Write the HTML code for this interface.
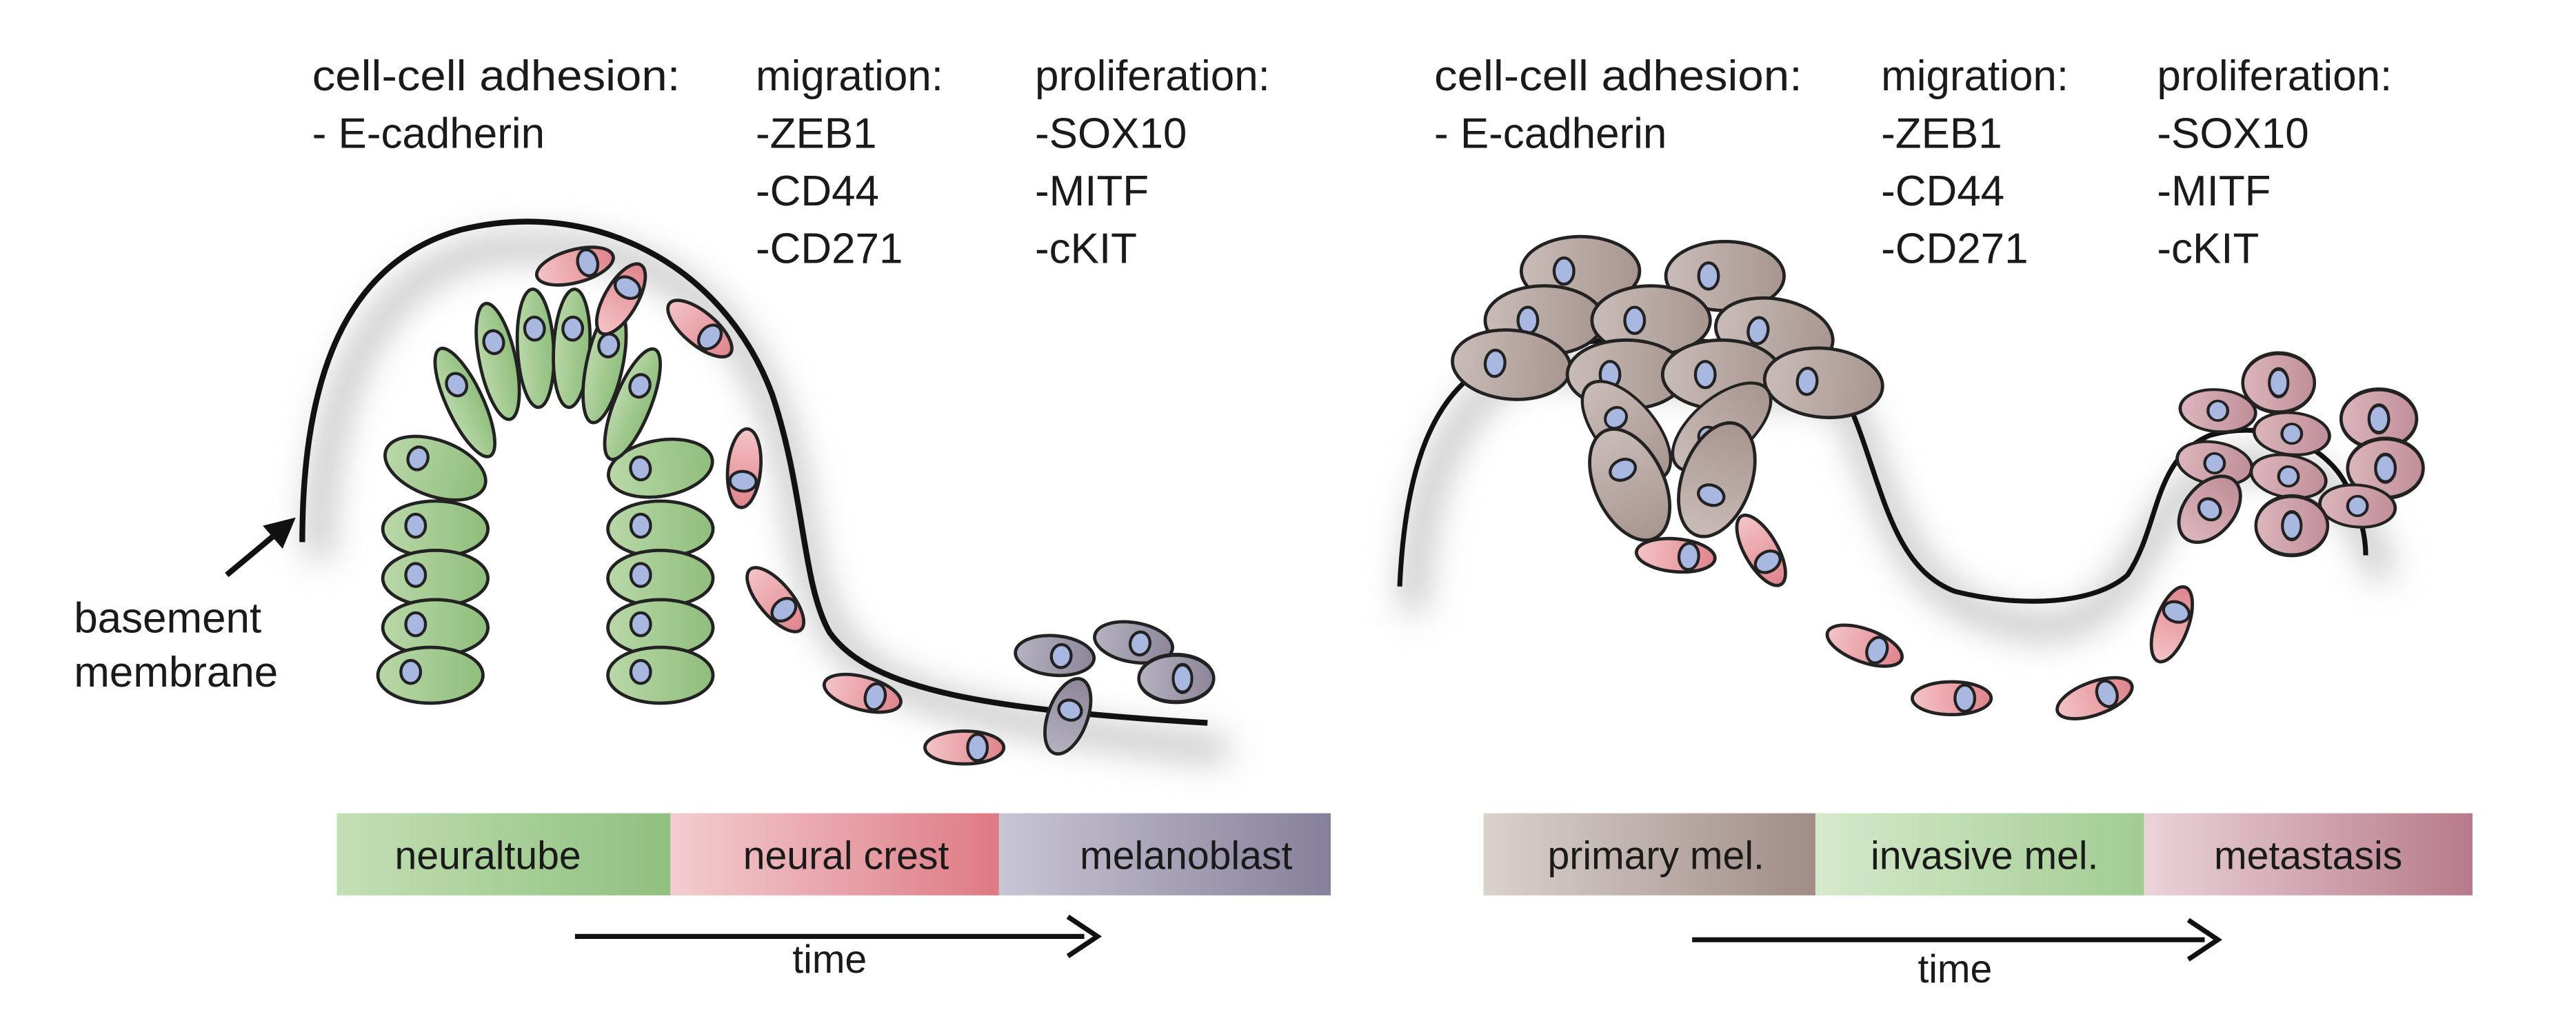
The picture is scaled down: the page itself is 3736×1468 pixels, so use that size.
<!DOCTYPE html>
<html><head><meta charset="utf-8"><style>
html,body{margin:0;padding:0;background:#fff;}
svg{display:block;}
text{font-family:"Liberation Sans",sans-serif;fill:#1a1a1a;}
</style></head><body>
<svg width="3736" height="1468" viewBox="0 0 1568 616" preserveAspectRatio="none" xmlns="http://www.w3.org/2000/svg">
<defs>
<filter id="blur" x="-20%" y="-20%" width="140%" height="140%"><feGaussianBlur stdDeviation="10"/></filter>
<linearGradient id="gC" x1="0" x2="1"><stop offset="0" stop-color="#b9d8a8"/><stop offset="1" stop-color="#8fbe7c"/></linearGradient>
<linearGradient id="pC" x1="0" x2="1"><stop offset="0" stop-color="#f4c4c6"/><stop offset="1" stop-color="#e0848c"/></linearGradient>
<linearGradient id="vC" x1="0" x2="1"><stop offset="0" stop-color="#b6b2c0"/><stop offset="1" stop-color="#8c8698"/></linearGradient>
<linearGradient id="bC" x1="0" x2="1"><stop offset="0" stop-color="#c9bcb8"/><stop offset="1" stop-color="#a8958f"/></linearGradient>
<linearGradient id="mC" x1="0" x2="1"><stop offset="0" stop-color="#dcb6bc"/><stop offset="1" stop-color="#c08e98"/></linearGradient>
<linearGradient id="b1" x1="0" x2="1"><stop offset="0" stop-color="#c3e0b4"/><stop offset="1" stop-color="#8fc07f"/></linearGradient>
<linearGradient id="b2" x1="0" x2="1"><stop offset="0" stop-color="#f2cdd0"/><stop offset="1" stop-color="#de7a84"/></linearGradient>
<linearGradient id="b3" x1="0" x2="1"><stop offset="0" stop-color="#c9c6d4"/><stop offset="1" stop-color="#86809a"/></linearGradient>
<linearGradient id="b4" x1="0" x2="1"><stop offset="0" stop-color="#dad2cd"/><stop offset="1" stop-color="#a08c88"/></linearGradient>
<linearGradient id="b5" x1="0" x2="1"><stop offset="0" stop-color="#d5eacb"/><stop offset="1" stop-color="#a2cc92"/></linearGradient>
<linearGradient id="b6" x1="0" x2="1"><stop offset="0" stop-color="#ead3d9"/><stop offset="1" stop-color="#b77a8a"/></linearGradient>
<g id="cg"><ellipse rx="32" ry="17" fill="url(#gC)" stroke="#222" stroke-width="2"/><ellipse cx="-12" cy="-2" rx="6" ry="7" fill="#a9b8e0" stroke="#222" stroke-width="1.8"/></g>
<g id="cgl"><ellipse rx="11" ry="36" fill="url(#gC)" stroke="#222" stroke-width="2"/><ellipse cx="0" cy="-12" rx="6" ry="7" fill="#a9b8e0" stroke="#222" stroke-width="1.8"/></g>
<g id="cp"><ellipse rx="24" ry="10" fill="url(#pC)" stroke="#222" stroke-width="2"/><ellipse cx="8" cy="0" rx="6" ry="8" fill="#a9b8e0" stroke="#222" stroke-width="1.8"/></g>
<g id="cv"><ellipse rx="24" ry="12" fill="url(#vC)" stroke="#222" stroke-width="2"/><ellipse cx="4" cy="0" rx="6" ry="7" fill="#a9b8e0" stroke="#222" stroke-width="1.8"/></g>
<g id="cb"><ellipse rx="36" ry="21" fill="url(#bC)" stroke="#222" stroke-width="2"/><ellipse cx="-10" cy="0" rx="6" ry="8" fill="#a9b8e0" stroke="#222" stroke-width="1.8"/></g>
<g id="cm"><ellipse rx="23" ry="15" fill="url(#mC)" stroke="#222" stroke-width="2"/><ellipse cx="0" cy="0" rx="6" ry="7" fill="#a9b8e0" stroke="#222" stroke-width="1.8"/></g>
</defs>

<!-- labels -->
<g font-size="26">
<text x="190" y="55" textLength="224" lengthAdjust="spacingAndGlyphs">cell-cell adhesion:</text><text x="190" y="90">- E-cadherin</text>
<text x="460" y="55">migration:</text><text x="460" y="90">-ZEB1</text><text x="460" y="125">-CD44</text><text x="460" y="160">-CD271</text>
<text x="630" y="55">proliferation:</text><text x="630" y="90">-SOX10</text><text x="630" y="125">-MITF</text><text x="630" y="160">-cKIT</text>
<text x="873" y="55" textLength="224" lengthAdjust="spacingAndGlyphs">cell-cell adhesion:</text><text x="873" y="90">- E-cadherin</text>
<text x="1145" y="55">migration:</text><text x="1145" y="90">-ZEB1</text><text x="1145" y="125">-CD44</text><text x="1145" y="160">-CD271</text>
<text x="1313" y="55">proliferation:</text><text x="1313" y="90">-SOX10</text><text x="1313" y="125">-MITF</text><text x="1313" y="160">-cKIT</text>
<text x="45" y="385">basement</text><text x="45" y="418">membrane</text>
</g>

<!-- shadows -->
<path d="M194,340 C194,250 222,168 297,152 C382,142 442,172 472,252 C494,312 482,362 522,402 C562,432 622,442 747,457" fill="none" stroke="#c4c4c4" stroke-width="16" filter="url(#blur)"/>
<path d="M860,372 C862,302 882,242 932,222 L1122,242 C1152,302 1152,372 1242,382 C1312,382 1302,282 1372,282 C1422,282 1442,322 1450,352" fill="none" stroke="#c4c4c4" stroke-width="16" filter="url(#blur)"/>

<!-- membranes -->
<path d="M184,330 C184,230 210,160 280,140 C360,120 440,160 470,240 C490,300 488,355 505,385 C530,420 600,432 735,440" fill="none" stroke="#111" stroke-width="3.5"/>
<path d="M852,357 C855,290 870,235 915,218 C960,205 1000,205 1040,208 C1080,212 1110,225 1125,245 C1145,290 1150,345 1190,360 C1230,370 1275,368 1295,350 C1315,320 1310,280 1345,265 C1380,255 1415,270 1428,295 C1436,310 1440,325 1440,338" fill="none" stroke="#111" stroke-width="3"/>

<!-- arrow basement -->
<line x1="138" y1="350" x2="168" y2="325" stroke="#111" stroke-width="3.5"/>
<polygon points="180,315 160,320 172,334" fill="#111"/>

<!-- green cells -->
<use href="#cg" transform="translate(265,285) rotate(20)"/>
<use href="#cg" x="265" y="322"/><use href="#cg" x="265" y="352"/><use href="#cg" x="265" y="382"/><use href="#cg" x="262" y="411"/>
<use href="#cg" transform="translate(402,285) rotate(-10)"/>
<use href="#cg" x="402" y="322"/><use href="#cg" x="402" y="352"/><use href="#cg" x="402" y="382"/><use href="#cg" x="402" y="411"/>
<use href="#cgl" transform="translate(283,245) rotate(-25)"/>
<use href="#cgl" transform="translate(303,220) rotate(-12)"/>
<use href="#cgl" transform="translate(326,212) rotate(-3)"/>
<use href="#cgl" transform="translate(348,212) rotate(3)"/>
<use href="#cgl" transform="translate(368,222) rotate(12)"/>
<use href="#cgl" transform="translate(385,246) rotate(22)"/>

<!-- pink cells left -->
<use href="#cp" transform="translate(350,162) rotate(-15)"/>
<use href="#cp" transform="translate(378,182) rotate(-60)"/>
<use href="#cp" transform="translate(426,200) rotate(40)"/>
<use href="#cp" transform="translate(453,285) rotate(95)"/>
<use href="#cp" transform="translate(472,365) rotate(50)"/>
<use href="#cp" transform="translate(525,422) rotate(15)"/>
<use href="#cp" transform="translate(587,455)"/>
<!-- purple -->
<use href="#cv" transform="translate(642,399) rotate(5)"/>
<use href="#cv" transform="translate(690,391) rotate(10)"/>
<use href="#cv" transform="translate(716,413) scale(0.95,1.2)"/>
<use href="#cv" transform="translate(650,436) rotate(-70)"/>

<!-- brown cells -->
<use href="#cb" transform="translate(962,165)"/>
<use href="#cb" transform="translate(1050,168)"/>
<use href="#cb" transform="translate(940,195)"/>
<use href="#cb" transform="translate(1005,195)"/>
<use href="#cb" transform="translate(1080,203) rotate(10)"/>
<use href="#cb" transform="translate(920,222) rotate(5)"/>
<use href="#cb" transform="translate(990,228)"/>
<use href="#cb" transform="translate(1048,228)"/>
<use href="#cb" transform="translate(1110,233) rotate(5)"/>
<use href="#cb" transform="translate(990,262) rotate(50) scale(1,0.85)"/>
<use href="#cb" transform="translate(1048,260) rotate(-40) scale(1,0.85)"/>
<use href="#cb" transform="translate(992,295) rotate(65)"/>
<use href="#cb" transform="translate(1045,292) rotate(-70)"/>

<!-- pink right -->
<use href="#cp" transform="translate(1020,338) rotate(5)"/>
<use href="#cp" transform="translate(1072,335) rotate(60)"/>
<use href="#cp" transform="translate(1135,393) rotate(20)"/>
<use href="#cp" transform="translate(1188,425)"/>
<use href="#cp" transform="translate(1275,425) rotate(-20)"/>
<use href="#cp" transform="translate(1322,380) rotate(-70)"/>

<!-- metastasis -->
<use href="#cm" transform="translate(1350,250) rotate(5) scale(1,0.85)"/>
<use href="#cm" transform="translate(1387,233) scale(0.95,1.2)"/>
<use href="#cm" transform="translate(1448,255) scale(1,1.2)"/>
<use href="#cm" transform="translate(1395,264) rotate(5) scale(1,0.85)"/>
<use href="#cm" transform="translate(1348,282) rotate(10) scale(1,0.85)"/>
<use href="#cm" transform="translate(1393,290) rotate(10) scale(1,0.85)"/>
<use href="#cm" transform="translate(1452,285) scale(1,1.2)"/>
<use href="#cm" transform="translate(1345,310) rotate(-50)"/>
<use href="#cm" transform="translate(1435,308) rotate(5) scale(1,0.85)"/>
<use href="#cm" transform="translate(1395,320) scale(0.95,1.2)"/>

<!-- bars -->
<rect x="205" y="495" width="204" height="50" fill="url(#b1)"/>
<rect x="408" y="495" width="201" height="50" fill="url(#b2)"/>
<rect x="608" y="495" width="202" height="50" fill="url(#b3)"/>
<rect x="903" y="495" width="203" height="50" fill="url(#b4)"/>
<rect x="1105" y="495" width="201" height="50" fill="url(#b5)"/>
<rect x="1305" y="495" width="200" height="50" fill="url(#b6)"/>
<g font-size="24" text-anchor="middle">
<text x="297" y="529">neuraltube</text>
<text x="515" y="529">neural crest</text>
<text x="722" y="529">melanoblast</text>
<text x="1008" y="529">primary mel.</text>
<text x="1208" y="529">invasive mel.</text>
<text x="1405" y="529">metastasis</text>
<text x="505" y="592">time</text>
<text x="1190" y="598">time</text>
</g>

<!-- time arrows -->
<line x1="350" y1="570" x2="660" y2="570" stroke="#111" stroke-width="3"/>
<polyline points="650,558 668,570 650,582" fill="none" stroke="#111" stroke-width="3"/>
<line x1="1030" y1="572" x2="1342" y2="572" stroke="#111" stroke-width="3"/>
<polyline points="1332,560 1350,572 1332,584" fill="none" stroke="#111" stroke-width="3"/>
</svg>
</body></html>
